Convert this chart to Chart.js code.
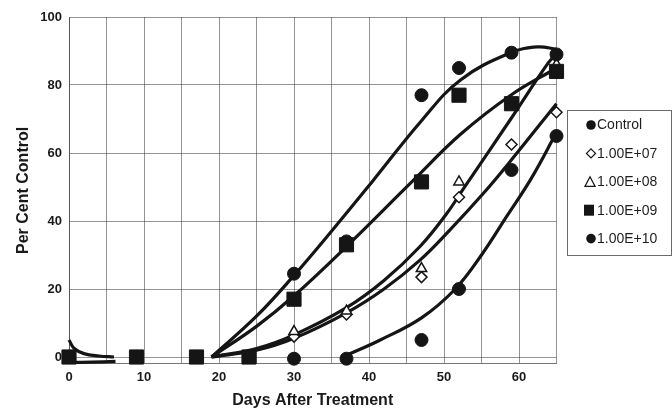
<!DOCTYPE html>
<html>
<head>
<meta charset="utf-8">
<script src="https://cdn.jsdelivr.net/npm/chart.js@4/dist/chart.umd.min.js"></script>
<style>
  html, body { margin: 0; padding: 0; background: #ffffff; }
  #wrap { width: 672px; height: 413px; position: relative; }
</style>
</head>
<body>
<div id="wrap"><canvas id="c" width="672" height="413"></canvas></div>
<script>
// ---- data ----
const days = [0, 9, 17, 24, 30, 37, 47, 52, 59, 65];
const seriesNames = ['Control', '1.00E+07', '1.00E+08', '1.00E+09', '1.00E+10'];
const control = [0, 0, 0, 0, 24.5, 34, 77, 85, 89.5, 89];
const e07 = [0, 0, 0, 0, 6, 12.5, 23.5, 47, 62.5, 72];
const e08 = [0, 0, 0, 0, 7.5, 13.5, 26, 51.5, 74.5, 86];
const e09 = [0, 0, 0, 0, 17, 33, 51.5, 77, 74.5, 84];
const e10 = [0, 0, 0, 0, -0.5, -0.5, 5, 20, 55, 65];

// trend curves
const trendControlX = [19, 25, 30, 35, 40.4, 47, 52.2, 58.9, 62.5, 65];
const trendControlY = [0, 12, 24, 37, 51.5, 69.5, 81.5, 89.5, 91.2, 90.5];
const trendE09X = [19, 25, 30, 37, 45.7, 52.2, 58.9, 65];
const trendE09Y = [0, 9, 18, 32.5, 51.5, 65.5, 77, 85];
const trendE08X = [19, 25, 30, 37, 42, 46.8, 50.3, 52.6, 58.9, 63.9, 65];
const trendE08Y = [0, 2.5, 6.5, 14.5, 22.5, 32.5, 42, 49.5, 70, 86.5, 89];
const trendE07X = [19, 25, 30, 37, 42, 46.8, 50.8, 55.2, 59, 65];
const trendE07Y = [0, 2, 5.5, 13, 20, 28.5, 37.4, 48, 58, 74.5];
const trendE10X = [37, 41.5, 47, 51.5, 55, 58.4, 61.6, 65];
const trendE10Y = [0.5, 5, 11.5, 20, 30, 41.5, 52.4, 66];
const stubTopX = [0, 0.7, 2, 4, 6];
const stubTopY = [5, 2.5, 1, 0.3, 0];
const stubLowX = [0.3, 3, 6.2];
const stubLowY = [-1.6, -1.5, -1.3];

const yTicks = [0, 20, 40, 60, 80, 100];

// ---- build ----
const zip = (xs, ys) => xs.map((x, i) => ({ x: x, y: ys[i] }));
const INK = '#151515';

function pointSet(label, values, style, radius, fill, order) {
  return {
    label: label,
    data: zip(days, values),
    showLine: false,
    clip: false,
    pointStyle: style,
    pointRadius: radius,
    pointHoverRadius: radius,
    pointBackgroundColor: fill,
    pointBorderColor: INK,
    pointBorderWidth: fill === '#ffffff' ? 1.5 : 1,
    backgroundColor: fill,
    borderColor: INK,
    order: order,
    isSeries: true
  };
}
function curveSet(xs, ys) {
  return {
    label: '',
    data: zip(xs, ys),
    showLine: true,
    clip: false,
    pointRadius: 0,
    borderColor: INK,
    borderWidth: 3.2,
    tension: 0.4,
    fill: false,
    order: 20
  };
}

const datasets = [
  curveSet(trendControlX, trendControlY),
  curveSet(trendE09X, trendE09Y),
  curveSet(trendE08X, trendE08Y),
  curveSet(trendE07X, trendE07Y),
  curveSet(trendE10X, trendE10Y),
  curveSet(stubTopX, stubTopY),
  curveSet(stubLowX, stubLowY),
  pointSet(seriesNames[0], control, 'circle', 6.5, INK, 3),
  pointSet(seriesNames[1], e07, 'rectRot', 5.5, '#ffffff', 6),
  pointSet(seriesNames[2], e08, 'triangle', 6, '#ffffff', 5),
  pointSet(seriesNames[3], e09, 'rect', 10, INK, 2),
  pointSet(seriesNames[4], e10, 'circle', 6.5, INK, 4)
];

const boxLegend = {
  id: 'boxLegend',
  afterDraw(chart) {
    const ctx = chart.ctx;
    const x0 = 567, y0 = 110, w = 104, h = 145;
    ctx.save();
    ctx.fillStyle = '#ffffff';
    ctx.fillRect(x0, y0, w, h);
    ctx.strokeStyle = '#6a6a6a';
    ctx.lineWidth = 1;
    ctx.strokeRect(x0 + 0.5, y0 + 0.5, w, h);
    const items = chart.data.datasets.filter(d => d.isSeries);
    ctx.font = '14px "Liberation Sans", Arial, sans-serif';
    ctx.textBaseline = 'middle';
    ctx.textAlign = 'left';
    items.forEach((d, i) => {
      const cy = y0 + 15 + i * 28.4;
      const mx = 591;
      ctx.fillStyle = d.pointBackgroundColor;
      ctx.strokeStyle = INK;
      ctx.lineWidth = 1.3;
      ctx.beginPath();
      if (d.pointStyle === 'circle') {
        ctx.arc(mx, cy, 4.8, 0, Math.PI * 2);
        ctx.fill();
      } else if (d.pointStyle === 'rectRot') {
        ctx.moveTo(mx, cy - 4.5); ctx.lineTo(mx + 4.5, cy); ctx.lineTo(mx, cy + 4.5); ctx.lineTo(mx - 4.5, cy); ctx.closePath();
        ctx.fill(); ctx.stroke();
      } else if (d.pointStyle === 'triangle') {
        ctx.moveTo(mx - 1, cy - 5); ctx.lineTo(mx + 4, cy + 4.5); ctx.lineTo(mx - 6, cy + 4.5); ctx.closePath();
        ctx.fill(); ctx.stroke();
      } else {
        ctx.rect(mx - 7, cy - 5.5, 10, 11);
        ctx.fill();
      }
      ctx.fillStyle = '#1e1e1e';
      ctx.fillText(d.label, 597, cy + 0.5);
    });
    ctx.restore();
  }
};

new Chart(document.getElementById('c'), {
  type: 'scatter',
  data: { datasets: datasets },
  plugins: [boxLegend],
  options: {
    responsive: false,
    animation: false,
    devicePixelRatio: 1,
    layout: { padding: { top: 17, right: 115.5, left: 0, bottom: 0 } },
    plugins: {
      legend: { display: false },
      tooltip: { enabled: false }
    },
    scales: {
      x: {
        type: 'linear',
        min: 0,
        max: 65,
        afterFit: s => { s.height = 49.2; },
        ticks: {
          stepSize: 5,
          padding: 6,
          color: '#1a1a1a',
          font: { family: '"Liberation Sans", Arial, sans-serif', size: 13, weight: 'bold' },
          callback: v => (v % 10 === 0 ? String(v) : '')
        },
        grid: { color: 'rgba(60,60,60,0.55)', lineWidth: 1, drawTicks: false },
        border: { color: 'rgba(60,60,60,0.7)', width: 1 },
        title: {
          display: true,
          text: 'Days After Treatment',
          color: '#1a1a1a',
          font: { family: '"Liberation Sans", Arial, sans-serif', size: 16, weight: 'bold' },
          padding: { top: 0, bottom: 3 }
        }
      },
      y: {
        type: 'linear',
        min: -2,
        max: 100,
        afterFit: s => { s.width = 69; },
        afterBuildTicks: s => { s.ticks = yTicks.map(v => ({ value: v })); },
        ticks: {
          padding: 7,
          color: '#1a1a1a',
          font: { family: '"Liberation Sans", Arial, sans-serif', size: 13, weight: 'bold' }
        },
        grid: { color: 'rgba(60,60,60,0.55)', lineWidth: 1, drawTicks: false },
        border: { color: 'rgba(60,60,60,0.7)', width: 1 },
        title: {
          display: true,
          text: 'Per Cent Control',
          color: '#1a1a1a',
          font: { family: '"Liberation Sans", Arial, sans-serif', size: 16, weight: 'bold' },
          padding: { top: 14, bottom: 0 }
        }
      }
    }
  }
});
</script>
</body>
</html>
